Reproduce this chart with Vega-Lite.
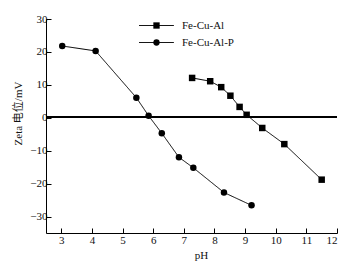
{
  "$schema": "https://vega.github.io/schema/vega-lite/v6.json",
  "width": 291,
  "height": 214,
  "autosize": "none",
  "padding": {"left": 46, "top": 19, "right": 17, "bottom": 42},
  "background": "white",
  "config": {
    "view": {"stroke": null},
    "font": "Liberation Serif",
    "axis": {
      "domainColor": "black",
      "tickColor": "black",
      "labelColor": "#111",
      "titleColor": "#111",
      "labelFont": "Liberation Serif",
      "titleFont": "Liberation Serif, Noto Sans CJK SC",
      "labelFontSize": 11,
      "titleFontSize": 11,
      "titleFontWeight": "normal",
      "grid": false,
      "domainWidth": 1,
      "tickWidth": 1,
      "labelOverlap": false,
      "labelSeparation": 0
    },
    "legend": {
      "title": null,
      "orient": "none",
      "legendX": 105,
      "legendY": 1,
      "padding": 0,
      "symbolSize": 40,
      "labelFont": "Liberation Serif",
      "labelFontSize": 11,
      "labelColor": "#111",
      "labelOffset": 20,
      "rowPadding": 5
    }
  },
  "data": {
    "values": [
      {"series": "Fe-Cu-Al", "pH": 7.27, "zeta": 12.1},
      {"series": "Fe-Cu-Al", "pH": 7.86, "zeta": 11.1},
      {"series": "Fe-Cu-Al", "pH": 8.22, "zeta": 9.3},
      {"series": "Fe-Cu-Al", "pH": 8.52, "zeta": 6.7},
      {"series": "Fe-Cu-Al", "pH": 8.82, "zeta": 3.3},
      {"series": "Fe-Cu-Al", "pH": 9.05, "zeta": 0.9},
      {"series": "Fe-Cu-Al", "pH": 9.56, "zeta": -3.1},
      {"series": "Fe-Cu-Al", "pH": 10.28, "zeta": -8.0},
      {"series": "Fe-Cu-Al", "pH": 11.5, "zeta": -18.8},
      {"series": "Fe-Cu-Al-P", "pH": 3.03, "zeta": 21.8},
      {"series": "Fe-Cu-Al-P", "pH": 4.12, "zeta": 20.3},
      {"series": "Fe-Cu-Al-P", "pH": 5.45, "zeta": 6.1},
      {"series": "Fe-Cu-Al-P", "pH": 5.85, "zeta": 0.6},
      {"series": "Fe-Cu-Al-P", "pH": 6.28, "zeta": -4.7},
      {"series": "Fe-Cu-Al-P", "pH": 6.84, "zeta": -12.0},
      {"series": "Fe-Cu-Al-P", "pH": 7.31, "zeta": -15.2},
      {"series": "Fe-Cu-Al-P", "pH": 8.31, "zeta": -22.7},
      {"series": "Fe-Cu-Al-P", "pH": 9.21, "zeta": -26.6}
    ]
  },
  "layer": [
    {
      "mark": {"type": "line", "color": "black", "strokeWidth": 1},
      "encoding": {
        "x": {
          "field": "pH", "type": "quantitative",
          "scale": {"domain": [2.5, 12], "nice": false, "zero": false},
          "axis": {"tickCount": 10, "labelOverlap": false, "tickSize": -5, "title": "pH", "titlePadding": 4, "labelPadding": 6, "titleX": 155}
        },
        "y": {
          "field": "zeta", "type": "quantitative",
          "scale": {"domain": [-35, 30], "nice": false, "zero": false},
          "axis": {"tickCount": 7, "labelOverlap": false, "tickSize": -5, "title": "Zeta 电位/mV", "titlePadding": 6, "labelPadding": 4, "titleY": 94}
        },
        "strokeDash": {
          "field": "series", "type": "nominal",
          "scale": {"range": [[1, 0], [1, 0]]},
          "legend": {
            "symbolType": "M-5.5,0H5.5",
            "symbolStrokeColor": "black",
            "symbolStrokeWidth": 1,
            "labelOpacity": 0
          }
        }
      }
    },
    {
      "mark": {"type": "point", "filled": true, "color": "black", "opacity": 1, "size": 42},
      "encoding": {
        "x": {"field": "pH", "type": "quantitative"},
        "y": {"field": "zeta", "type": "quantitative"},
        "shape": {
          "field": "series", "type": "nominal",
          "scale": {"domain": ["Fe-Cu-Al", "Fe-Cu-Al-P"], "range": ["square", "circle"]},
          "legend": {
            "symbolFillColor": "black",
            "symbolStrokeColor": "black",
            "symbolStrokeWidth": 0,
            "symbolOpacity": 1
          }
        }
      }
    },
    {
      "mark": {"type": "rule", "color": "black", "strokeWidth": 1},
      "encoding": {"y": {"datum": 0.15, "type": "quantitative"}}
    }
  ]
}
